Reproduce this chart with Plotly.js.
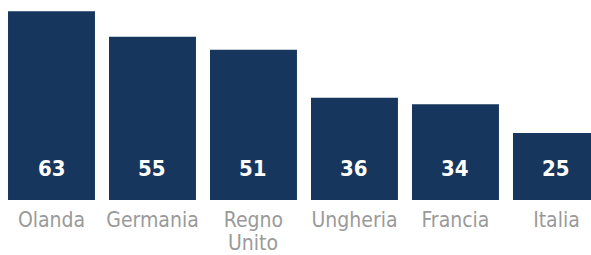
<!DOCTYPE html>
<html>
<head>
<meta charset="utf-8">
<script src="https://cdn.plot.ly/plotly-3.0.1.min.js"></script>
<style>
  html, body { margin: 0; padding: 0; background: #ffffff; overflow: hidden; }
  #chart { width: 591px; height: 255px; }
</style>
</head>
<body>
<div id="chart"></div>
<script>
// ---- data ----
var categories = ['Olanda', 'Germania', 'Regno Unito', 'Ungheria', 'Francia', 'Italia'];
var values = [63, 55, 51, 36, 34, 25];
var tickLabels = ['Olanda', 'Germania', 'Regno<br>Unito', 'Ungheria', 'Francia', 'Italia'];

// ---- style ----
var barColor = '#17365d';
var tickColor = '#9a9a9a';
var fontFamily = '"DejaVu Sans Condensed", "Liberation Sans Narrow", "Liberation Sans", sans-serif';

var line1 = tickLabels.map(function (t) { return t.split('<br>')[0]; });
var line2 = tickLabels.map(function (t) { var p = t.split('<br>'); return p.length > 1 ? p[1] : ''; });

var xRange = [-0.5, 5.342];

var trace = {
  type: 'bar',
  x: categories,
  y: values,
  marker: { color: barColor },
  hoverinfo: 'none'
};

var annotations = [];
categories.forEach(function (c, i) {
  annotations.push({
    x: c, xref: 'x',
    y: 0, yref: 'paper',
    yanchor: 'bottom',
    yshift: 17,
    text: String(values[i]),
    showarrow: false,
    font: { family: fontFamily, size: 22, color: '#ffffff', weight: 'bold', stretch: 'condensed' }
  });
  if (line2[i]) {
    annotations.push({
      x: c, xref: 'x',
      y: 0, yref: 'paper',
      yanchor: 'top',
      yshift: -29,
      text: line2[i],
      showarrow: false,
      font: { family: fontFamily, size: 21, color: tickColor, stretch: 'condensed' }
    });
  }
});

var layout = {
  width: 591,
  height: 255,
  margin: { l: 1, r: 0, t: 0, b: 55 },
  paper_bgcolor: '#ffffff',
  plot_bgcolor: '#ffffff',
  showlegend: false,
  bargap: 0.139,
  xaxis: {
    type: 'category',
    range: xRange,
    tickvals: categories,
    ticktext: line1,
    tickfont: { family: fontFamily, size: 21, color: tickColor, stretch: 'condensed' },
    ticklabelstandoff: 5,
    ticks: '',
    showline: false,
    showgrid: false,
    zeroline: false,
    fixedrange: true
  },
  yaxis: {
    range: [4.1, 66.5],
    visible: false,
    fixedrange: true
  },
  annotations: annotations
};

Plotly.newPlot('chart', [trace], layout, { displayModeBar: false, staticPlot: true });
</script>
</body>
</html>
